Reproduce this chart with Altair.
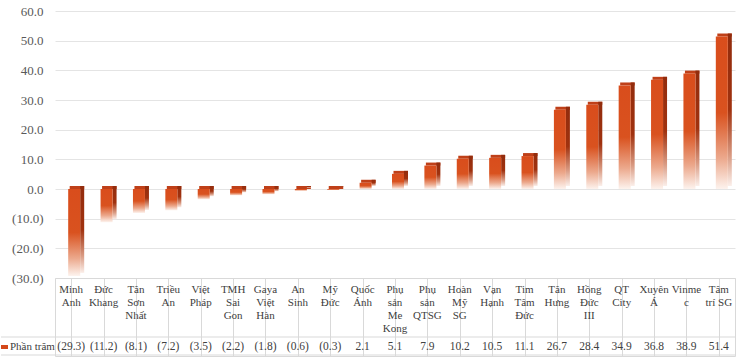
import altair as alt
import pandas as pd

categories = ["Minh\nAnh", "Đức\nKhang", "Tân\nSơn\nNhất", "Triều\nAn", "Việt\nPháp",
              "TMH\nSai\nGon", "Gaya\nViệt\nHàn", "An\nSinh", "Mỹ\nĐức", "Quốc\nÁnh",
              "Phụ\nsản\nMe\nKong", "Phụ\nsản\nQTSG", "Hoàn\nMỹ\nSG", "Vạn\nHạnh",
              "Tim\nTâm\nĐức", "Tân\nHưng", "Hồng\nĐức\nIII", "QT\nCity", "Xuyên\nÁ",
              "Vinme\nc", "Tâm\ntrí SG"]
values = [-29.3, -11.2, -8.1, -7.2, -3.5, -2.2, -1.8, -0.6, -0.3, 2.1, 5.1, 7.9,
          10.2, 10.5, 11.1, 26.7, 28.4, 34.9, 36.8, 38.9, 51.4]
series_name = "Phần trăm"
y_ticks = [-30, -20, -10, 0, 10, 20, 30, 40, 50, 60]

df = pd.DataFrame({"cat": categories, "v": values})
df["top"] = df["v"].clip(lower=0)
df["lbl"] = [f"({abs(v):.1f})" if v < 0 else f"{v:.1f}" for v in values]

FONT = "Liberation Serif"
W = 680

xenc = alt.X("cat:N", sort=categories, axis=None,
             scale=alt.Scale(paddingInner=0, paddingOuter=0))
yscale = alt.Scale(domain=[-30, 60], nice=False)
yaxis = alt.Axis(values=y_ticks, grid=True, gridColor="#e4e4e4", domain=False,
                 ticks=False, labelPadding=12, labelFont=FONT, labelFontSize=13,
                 labelColor="#595959", title=None,
                 labelExpr="datum.value < 0 ? '(' + format(-datum.value, '.1f') + ')' : format(datum.value, '.1f')")

front_grad = alt.LinearGradient(gradient="linear", x1=0, y1=0, x2=0, y2=1, stops=[
    alt.GradientStop(offset=0, color="#d94d1c"),
    alt.GradientStop(offset=0.5, color="#d9521f"),
    alt.GradientStop(offset=0.8, color="#eca98d"),
    alt.GradientStop(offset=1, color="#fdf3ee")])
side_grad = alt.LinearGradient(gradient="linear", x1=0, y1=0, x2=0, y2=1, stops=[
    alt.GradientStop(offset=0, color="#922c0d"),
    alt.GradientStop(offset=0.5, color="#a0320f"),
    alt.GradientStop(offset=0.8, color="#d99a82"),
    alt.GradientStop(offset=1, color="#fbefea")])

base = alt.Chart(df).encode(x=xenc)

top_face = base.mark_bar(color="#bf4019", width=14.5, xOffset=5.75, yOffset=-3, y2Offset=0).encode(
    y=alt.Y("top:Q", scale=yscale, axis=yaxis), y2=alt.Y2("top"))
side = base.mark_bar(color=side_grad, width=4, xOffset=11, yOffset=-3, y2Offset=-3).encode(
    y=alt.Y("v:Q", scale=yscale, axis=yaxis), y2=alt.Y2(datum=0))
front = base.mark_bar(color=front_grad, width=12, xOffset=3).encode(
    y=alt.Y("v:Q", scale=yscale, axis=yaxis), y2=alt.Y2(datum=0))

top_chart = alt.layer(top_face, side, front).properties(
    width=W, height=267, view=alt.ViewBackground(stroke=None))

# data table
TH = 78
names = alt.Chart(df).mark_text(baseline="top", align="center", lineBreak="\n",
                                font=FONT, fontSize=11, lineHeight=13, color="#404040").encode(
    x=alt.X("cat:N", sort=categories,
            axis=alt.Axis(grid=True, gridColor="#d9d9d9", labels=False, ticks=False,
                          domain=False, title=None, bandPosition=0),
            scale=alt.Scale(paddingInner=0, paddingOuter=0)),
    y=alt.value(6), text="cat:N")
vals = alt.Chart(df).mark_text(baseline="middle", align="center", font=FONT,
                               fontSize=11.5, color="#404040").encode(
    x=alt.X("cat:N", sort=categories), y=alt.value(69), text="lbl:N")
one = pd.DataFrame({"name": [series_name]})
row_line = alt.Chart(one).mark_rule(color="#d9d9d9").encode(
    x=alt.value(-54), x2=alt.value(W), y=alt.value(59))
bot_line = alt.Chart(one).mark_rule(color="#d9d9d9").encode(
    x=alt.value(-54), x2=alt.value(W), y=alt.value(TH - 1))
key = alt.Chart(one).mark_rect(color="#d4481a").encode(
    x=alt.value(-54), x2=alt.value(-47), y=alt.value(67), y2=alt.value(71))
key_text = alt.Chart(one).mark_text(align="left", baseline="middle", font=FONT,
                                    fontSize=11, color="#404040").encode(
    x=alt.value(-45), y=alt.value(69), text="name:N")

table = alt.layer(names, vals, row_line, bot_line, key, key_text).properties(
    width=W, height=TH, view=alt.ViewBackground(stroke="#d9d9d9"))

chart = alt.vconcat(top_chart, table, spacing=0, bounds="flush").properties(
    padding={"left": 0, "top": 5, "right": 2, "bottom": 0},
    background="white")

chart.save("out.html", embed_options={"renderer": "svg", "actions": False})
